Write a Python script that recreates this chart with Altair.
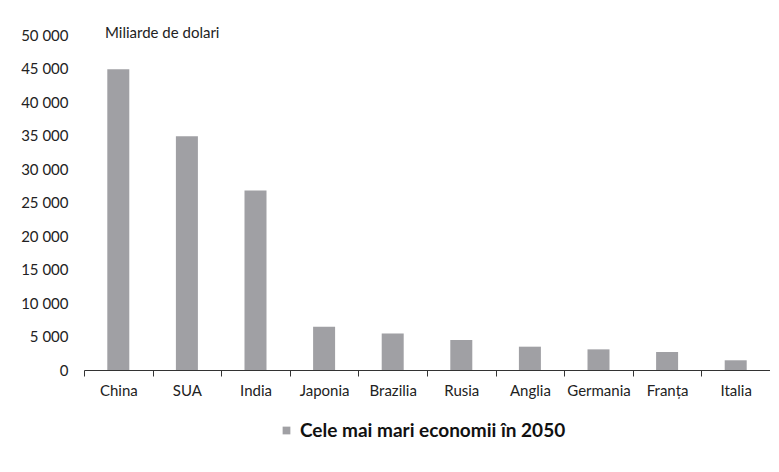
import altair as alt
import pandas as pd

countries = ["China", "SUA", "India", "Japonia", "Brazilia", "Rusia", "Anglia", "Germania", "Franța", "Italia"]
values = [44900, 34900, 26800, 6450, 5450, 4480, 3480, 3080, 2690, 1450]
series_name = "Cele mai mari economii în 2050"
y_ticks = [0, 5000, 10000, 15000, 20000, 25000, 30000, 35000, 40000, 45000, 50000]
unit_label = "Miliarde de dolari"

df = pd.DataFrame({"country": countries, "value": values, "series": [series_name] * len(countries)})

FONT = "Lato, sans-serif"

bars = alt.Chart(df).mark_bar(size=22).encode(
    x=alt.X("country:N", sort=countries,
            scale=alt.Scale(paddingInner=0, paddingOuter=0),
            axis=alt.Axis(title=None, labelAngle=0, tickBand="extent", tickSize=6, grid=False,
                          domainColor="#333333", tickColor="#333333", labelColor="#222222",
                          labelFontSize=15, labelFont=FONT, labelPadding=7, domainWidth=1.2)),
    y=alt.Y("value:Q", scale=alt.Scale(domain=[0, 50000], nice=False),
            axis=alt.Axis(title=None, values=y_ticks, grid=False, domain=False, ticks=False,
                          labelExpr="replace(format(datum.value, ',d'), ',', ' ')",
                          labelFontSize=15, labelFont=FONT, labelColor="#222222", labelPadding=16)),
    color=alt.Color("series:N", scale=alt.Scale(range=["#a0a0a4"]),
                    legend=alt.Legend(title=None, orient="none", legendX=193, legendY=386,
                                      symbolType="square", symbolSize=60, symbolStrokeWidth=0,
                                      labelFontSize=19, labelFontWeight="bold", labelFont=FONT,
                                      labelColor="#111111", labelLimit=0)),
)

label = alt.Chart(pd.DataFrame({"t": [unit_label]})).mark_text(
    align="left", baseline="middle", fontSize=15, font=FONT, color="#222222"
).encode(text="t:N", x=alt.value(21), y=alt.value(-2))

chart = alt.layer(bars, label).properties(
    width=686, height=335,
    background="white",
    autosize=alt.AutoSizeParams(type="none"),
    padding={"left": 76, "top": 27, "right": 0, "bottom": 90},
).configure_view(stroke=None, strokeWidth=0)

chart.save("out.html", embed_options={"renderer": "svg", "actions": False})
